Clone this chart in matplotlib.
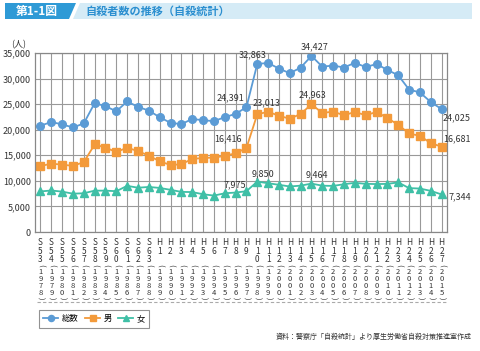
import numpy as np
import matplotlib.pyplot as plt
from matplotlib.patches import Polygon

plt.rcParams['font.family'] = ['Noto Sans CJK JP', 'DejaVu Sans']

era = ['S53', 'S54', 'S55', 'S56', 'S57', 'S58', 'S59', 'S60', 'S61', 'S62', 'S63',
       'H1', 'H2', 'H3', 'H4', 'H5', 'H6', 'H7', 'H8', 'H9', 'H10', 'H11', 'H12',
       'H13', 'H14', 'H15', 'H16', 'H17', 'H18', 'H19', 'H20', 'H21', 'H22', 'H23',
       'H24', 'H25', 'H26', 'H27']
years = list(range(1978, 2016))

total = [20788, 21503, 21048, 20434, 21228, 25202, 24596, 23599, 25524, 24460,
         23742, 22436, 21346, 21084, 22104, 21851, 21679, 22445, 23104, 24391,
         32863, 33048, 31957, 31042, 32143, 34427, 32325, 32552, 32155, 33093,
         32249, 32845, 31690, 30651, 27858, 27283, 25427, 24025]
male = [12859, 13386, 13155, 12942, 13654, 17116, 16508, 15624, 16499, 15802,
        14934, 13818, 13102, 13242, 14296, 14468, 14560, 14874, 15393, 16416,
        23013, 23512, 22727, 22144, 23080, 24963, 23272, 23540, 22813, 23478,
        22831, 23472, 22283, 20955, 19273, 18787, 17386, 16681]
female = [7929, 8117, 7893, 7492, 7574, 8086, 8088, 7975, 9025, 8658,
          8808, 8618, 8244, 7842, 7808, 7383, 7119, 7571, 7711, 7975,
          9850, 9536, 9230, 8898, 9063, 9464, 9053, 9012, 9342, 9615,
          9418, 9373, 9407, 9696, 8585, 8496, 8041, 7344]

c_total = '#5b9bd5'
c_male = '#f39a3a'
c_female = '#3fbfa6'

W, H = 480, 351
fig = plt.figure(figsize=(4.8, 3.51), dpi=100)
ax = fig.add_axes([35 / W, 1 - 232 / H, 412 / W, 179 / H])

x = np.arange(len(years))
ax.plot(x, total, color=c_total, marker='o', ms=5.5, lw=1.3, label='総数')
ax.plot(x, male, color=c_male, marker='s', ms=5.5, lw=1.3, label='男')
ax.plot(x, female, color=c_female, marker='^', ms=5.5, lw=1.3, label='女')

ax.set_xlim(-0.5, len(years) - 0.5)
ax.set_ylim(0, 35000)
ax.set_yticks(range(0, 35001, 5000))
ax.set_yticklabels(['{:,}'.format(v) for v in range(0, 35001, 5000)], fontsize=6.5, color='#333333')
ax.set_xticks(x)
ax.set_xticklabels([])
ax.tick_params(length=0, pad=3)
ax.grid(True, color='#999999', lw=0.8)
ax.set_axisbelow(True)
for s in ax.spines.values():
    s.set_color('#888888')
    s.set_linewidth(0.9)

# vertical tick labels (era on top, western year in vertical brackets below)
fig_y = lambda py: 1 - py / H
for i, (e, y) in enumerate(zip(era, years)):
    xf = (35 + 412 * (i + 0.5) / len(years)) / W
    era_txt = '\n'.join(list(e) + [' '] * (3 - len(e)))
    fig.text(xf, fig_y(238), era_txt, ha='center', va='top', fontsize=6,
             linespacing=0.95, color='#333333')
    fig.text(xf, fig_y(265), '(', rotation=-90, ha='center', va='center',
             fontsize=5.5, color='#333333')
    fig.text(xf, fig_y(268.5), '\n'.join(str(y)), ha='center', va='top', fontsize=5.5,
             linespacing=0.8, color='#333333')
    fig.text(xf, fig_y(298.5), ')', rotation=-90, ha='center', va='center',
             fontsize=5.5, color='#333333')

ax.text(-0.04, 1.035, '(人)', transform=ax.transAxes, fontsize=6.5, ha='center', color='#333333')

# data labels
labels = [
    (19, total, '24,391', (-11.5, 6.5)), (20, total, '32,863', (-3, 6.5)),
    (25, total, '34,427', (2.5, 6.5)), (37, total, '24,025', (11, -6)),
    (19, male, '16,416', (-13, 6.5)), (20, male, '23,013', (7, 8)),
    (25, male, '24,963', (1, 6.5)), (37, male, '16,681', (11, 6)),
    (19, female, '7,975', (-8, 4.5)), (20, female, '9,850', (4, 5.5)),
    (25, female, '9,464', (4, 6)), (37, female, '7,344', (13, -1.5)),
]
for i, series, txt, off in labels:
    ax.annotate(txt, (i, series[i]), xytext=off, textcoords='offset points',
                ha='center', va='center', fontsize=6.5, color='#333333')

# dashed separator
fig.add_artist(plt.Line2D([37 / W, 447 / W], [fig_y(302)] * 2,
                          transform=fig.transFigure, color='#aaaaaa', lw=0.8, ls=(0, (3, 2))))

leg = fig.legend(loc='upper left', bbox_to_anchor=(35 / W, fig_y(306)), ncol=3,
                 fontsize=6, frameon=True, fancybox=False, handlelength=1.8,
                 columnspacing=0.8, handletextpad=0.4, borderpad=0.5, markerscale=0.8)
leg.get_frame().set_edgecolor('#777777')
leg.get_frame().set_linewidth(0.8)

fig.text(472 / W, fig_y(337), '資料：警察庁「自殺統計」より厚生労働省自殺対策推進室作成',
         ha='right', va='center', fontsize=5, color='#333333')

# title banner
fig.add_artist(Polygon([(80 / W, fig_y(3)), (472 / W, fig_y(3)), (472 / W, fig_y(19)),
                        (73 / W, fig_y(19))],
                       transform=fig.transFigure, color='#d5ebf6', lw=0))
fig.add_artist(Polygon([(5 / W, fig_y(19)), (5 / W, fig_y(3)),
                        (76 / W, fig_y(3)), (69 / W, fig_y(19))],
                       transform=fig.transFigure, color='#2e9ad6', lw=0))
fig.text(37 / W, fig_y(11), '第1-1図', ha='center', va='center',
         fontsize=8.5, fontweight='bold', color='white')
fig.text(85 / W, fig_y(11), '自殺者数の推移（自殺統計）', ha='left', va='center',
         fontsize=8, fontweight='bold', color='#2b8fd0')

fig.savefig('out.png', dpi=100)
